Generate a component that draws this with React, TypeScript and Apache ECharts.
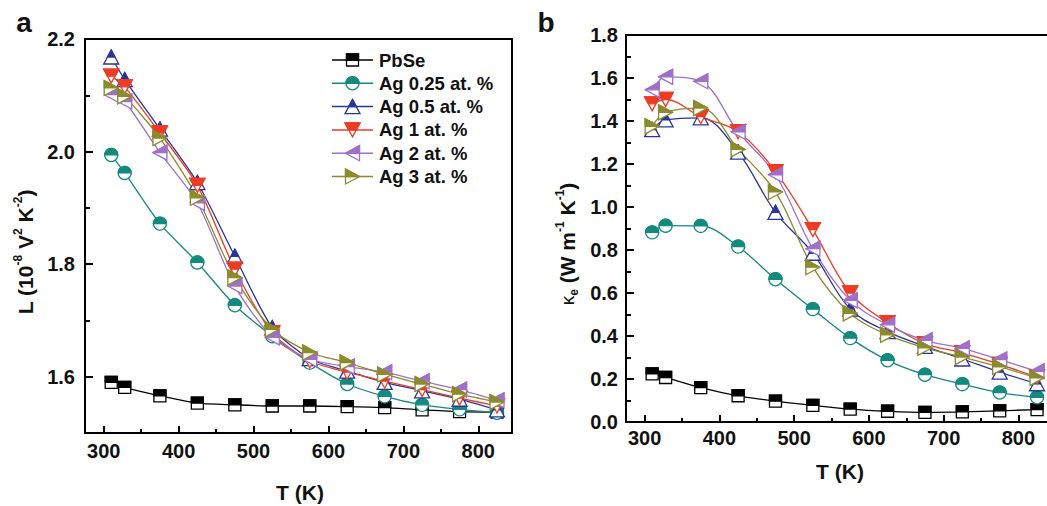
import React, { useEffect, useRef } from 'react';
import * as echarts from 'echarts';

// ---------------- data ----------------
const T = [310, 328, 375, 425, 475, 525, 575, 625, 675, 725, 775, 825];

const SERIES_NAMES = ['PbSe', 'Ag 0.25 at. %', 'Ag 0.5 at. %', 'Ag 1 at. %', 'Ag 2 at. %', 'Ag 3 at. %'];
const COLORS = ['#000000', '#138a7e', '#28369b', '#ee3b24', '#a070c8', '#8b8a2c'];
const SHAPES = ['square', 'circle', 'up', 'down', 'left', 'right'];

// Lorenz number L (10^-8 V^2 K^-2)
const L_PbSe = [1.590, 1.581, 1.566, 1.553, 1.550, 1.548, 1.548, 1.547, 1.545, 1.541, 1.538, 1.537];
const L_Ag025 = [1.994, 1.962, 1.872, 1.803, 1.727, 1.672, 1.625, 1.587, 1.565, 1.550, 1.542, 1.536];
const L_Ag05 = [2.168, 2.128, 2.040, 1.945, 1.814, 1.687, 1.632, 1.610, 1.590, 1.575, 1.560, 1.541];
const L_Ag1 = [2.134, 2.115, 2.033, 1.940, 1.791, 1.678, 1.628, 1.608, 1.592, 1.577, 1.562, 1.548];
const L_Ag2 = [2.101, 2.089, 1.998, 1.909, 1.761, 1.670, 1.631, 1.618, 1.608, 1.592, 1.577, 1.558];
const L_Ag3 = [2.113, 2.098, 2.024, 1.918, 1.776, 1.684, 1.643, 1.625, 1.604, 1.587, 1.569, 1.555];

// electronic thermal conductivity kappa_e (W m^-1 K^-1)
const K_PbSe = [0.224, 0.207, 0.160, 0.122, 0.097, 0.077, 0.060, 0.050, 0.045, 0.047, 0.052, 0.058];
const K_Ag025 = [0.882, 0.913, 0.912, 0.816, 0.664, 0.525, 0.390, 0.287, 0.220, 0.176, 0.137, 0.115];
const K_Ag05 = [1.36, 1.405, 1.415, 1.255, 0.975, 0.785, 0.525, 0.42, 0.352, 0.293, 0.232, 0.178];
const K_Ag1 = [1.48, 1.50, 1.42, 1.35, 1.165, 0.895, 0.60, 0.462, 0.365, 0.322, 0.268, 0.209];
const K_Ag2 = [1.545, 1.605, 1.585, 1.35, 1.15, 0.806, 0.566, 0.452, 0.38, 0.343, 0.29, 0.236];
const K_Ag3 = [1.375, 1.44, 1.46, 1.268, 1.07, 0.72, 0.505, 0.405, 0.345, 0.302, 0.256, 0.205];

const L_DATA = [L_PbSe, L_Ag025, L_Ag05, L_Ag1, L_Ag2, L_Ag3];
const K_DATA = [K_PbSe, K_Ag025, K_Ag05, K_Ag1, K_Ag2, K_Ag3];

const X_TICK_LABELS = [300, 400, 500, 600, 700, 800];

// ---------------- helpers ----------------
const FONT = "'Liberation Sans', Arial, Helvetica, sans-serif";

function markerEls(shape: string, cx: number, cy: number, color: string): any[] {
  const lw = 1.3;
  const white = { fill: '#ffffff', stroke: color, lineWidth: lw };
  const solid = { fill: color, stroke: color, lineWidth: lw };
  switch (shape) {
    case 'square': {
      const s = 6;
      return [
        { type: 'rect', shape: { x: cx - s, y: cy - s, width: 2 * s, height: 2 * s }, style: white },
        { type: 'rect', shape: { x: cx - s, y: cy - s, width: 2 * s, height: s }, style: solid },
      ];
    }
    case 'circle': {
      const r = 6.5;
      return [
        { type: 'circle', shape: { cx, cy, r }, style: white },
        { type: 'sector', shape: { cx, cy, r, r0: 0, startAngle: Math.PI, endAngle: 2 * Math.PI, clockwise: true }, style: solid },
      ];
    }
    case 'up': {
      const w = 7.5, h = 7;
      return [
        { type: 'polygon', shape: { points: [[cx, cy - h], [cx + w, cy + h], [cx - w, cy + h]] }, style: white },
        { type: 'polygon', shape: { points: [[cx, cy - h], [cx + w / 2, cy], [cx - w / 2, cy]] }, style: solid },
      ];
    }
    case 'down': {
      const w = 7.5, h = 7;
      return [
        { type: 'polygon', shape: { points: [[cx - w, cy - h], [cx + w, cy - h], [cx, cy + h]] }, style: white },
        { type: 'polygon', shape: { points: [[cx - w, cy - h], [cx + w, cy - h], [cx + w / 2, cy], [cx - w / 2, cy]] }, style: solid },
      ];
    }
    case 'left': {
      const w = 7, h = 7.5;
      return [
        { type: 'polygon', shape: { points: [[cx - w, cy], [cx + w, cy - h], [cx + w, cy + h]] }, style: white },
        { type: 'polygon', shape: { points: [[cx - w, cy], [cx + w, cy - h], [cx + w, cy]] }, style: solid },
      ];
    }
    default: {
      const w = 7, h = 7.5;
      return [
        { type: 'polygon', shape: { points: [[cx + w, cy], [cx - w, cy - h], [cx - w, cy + h]] }, style: white },
        { type: 'polygon', shape: { points: [[cx - w, cy - h], [cx + w, cy], [cx - w, cy]] }, style: solid },
      ];
    }
  }
}

function xAxisCfg(gridIndex: number, labelMargin: number) {
  return {
    type: 'value',
    gridIndex,
    min: 275,
    max: 845,
    splitNumber: 5,
    minInterval: 100,
    maxInterval: 100,
    axisLine: { show: true, onZero: false, lineStyle: { color: '#000', width: 2 } },
    axisTick: { show: true, inside: true, length: 7, lineStyle: { color: '#000', width: 2 } },
    minorTick: { show: true, splitNumber: 2, length: 4, lineStyle: { color: '#000', width: 2 } },
    splitLine: { show: false },
    minorSplitLine: { show: false },
    axisLabel: {
      showMinLabel: false,
      showMaxLabel: false,
      margin: labelMargin,
      color: '#111',
      fontSize: 20,
      fontWeight: 'bold',
      fontFamily: FONT,
      formatter: (v: number) => (X_TICK_LABELS.indexOf(Math.round(v)) >= 0 ? String(Math.round(v)) : ''),
    },
  };
}

function yAxisCfg(gridIndex: number, min: number, max: number, labelMargin: number, interval?: number) {
  const cfg: any = {
    type: 'value',
    gridIndex,
    min,
    max,
    axisLine: { show: true, onZero: false, lineStyle: { color: '#000', width: 2 } },
    axisTick: { show: true, inside: true, length: 8, lineStyle: { color: '#000', width: 2 } },
    minorTick: { show: true, splitNumber: 2, length: 5, lineStyle: { color: '#000', width: 2 } },
    splitLine: { show: false },
    minorSplitLine: { show: false },
    axisLabel: {
      showMinLabel: interval != null,
      margin: labelMargin,
      color: '#111',
      fontSize: 20,
      fontWeight: 'bold',
      fontFamily: FONT,
      formatter: (v: number) => v.toFixed(1),
    },
  };
  if (interval != null) {
    cfg.interval = interval;
  } else {
    cfg.splitNumber = 3;
    cfg.minInterval = 0.2;
    cfg.maxInterval = 0.2;
  }
  return cfg;
}

export default function App() {
  const ref = useRef<HTMLDivElement>(null);

  useEffect(() => {
    if (!ref.current) return;
    const chart = echarts.init(ref.current, undefined, { renderer: 'svg' });

    const series: any[] = [];
    const panels = [
      { data: L_DATA, grid: 0, smooth: 0.25 },
      { data: K_DATA, grid: 1, smooth: 0.35 },
    ];
    panels.forEach((p) => {
      p.data.forEach((vals, i) => {
        series.push({
          type: 'line',
          name: SERIES_NAMES[i],
          xAxisIndex: p.grid,
          yAxisIndex: p.grid,
          data: T.map((t, k) => [t, vals[k]]),
          smooth: p.smooth,
          showSymbol: false,
          symbol: 'none',
          lineStyle: { color: COLORS[i], width: 1.3 },
          itemStyle: { color: COLORS[i] },
          z: 2,
          silent: true,
        });
      });
    });
    panels.forEach((p) => {
      p.data.forEach((vals, i) => {
        series.push({
          type: 'custom',
          name: SERIES_NAMES[i] + ' markers',
          xAxisIndex: p.grid,
          yAxisIndex: p.grid,
          data: T.map((t, k) => [t, vals[k]]),
          encode: { x: 0, y: 1 },
          z: 3,
          silent: true,
          renderItem: (params: any, api: any) => {
            const c = api.coord([api.value(0), api.value(1)]);
            return { type: 'group', children: markerEls(SHAPES[i], c[0], c[1], COLORS[i]) };
          },
        });
      });
    });

    // legend (graphic)
    const legendEls: any[] = [];
    SERIES_NAMES.forEach((name, i) => {
      const y = 60 + i * 23.3;
      legendEls.push({
        type: 'line',
        shape: { x1: 332, y1: y, x2: 373, y2: y },
        style: { stroke: COLORS[i], lineWidth: 1.5 },
        z: 10,
      });
      legendEls.push({ type: 'group', children: markerEls(SHAPES[i], 352.5, y, COLORS[i]), z: 11 });
      legendEls.push({
        type: 'text',
        x: 379,
        y,
        style: {
          text: name,
          fontSize: 18.5,
          fontWeight: 'bold',
          fontFamily: FONT,
          fill: '#111',
          align: 'left',
          verticalAlign: 'middle',
          textAlign: 'left',
          textVerticalAlign: 'middle',
        },
        z: 11,
      });
    });

    const titleRich = {
      m: { fontSize: 21, fontWeight: 'bold', fontFamily: FONT, fill: '#111', lineHeight: 26 },
      s: { fontSize: 12, fontWeight: 'bold', fontFamily: FONT, fill: '#111', lineHeight: 12, verticalAlign: 'top' },
      sub: { fontSize: 12, fontWeight: 'bold', fontFamily: FONT, fill: '#111', lineHeight: 12, verticalAlign: 'bottom' },
      k: { fontSize: 19, fontWeight: 'normal', fontFamily: FONT, fill: '#111', lineHeight: 26 },
    };

    const textBase = (text: string, x: number, y: number, extra: any = {}) => ({
      type: 'text',
      x,
      y,
      ...extra,
      style: {
        text,
        fontFamily: FONT,
        fontWeight: 'bold',
        fontSize: 21,
        fill: '#111',
        align: 'center',
        verticalAlign: 'middle',
        textAlign: 'center',
        textVerticalAlign: 'middle',
        ...(extra.style || {}),
      },
    });

    const graphics: any[] = [
      ...legendEls,
      textBase('a', 24, 22, { style: { fontSize: 28 } }),
      textBase('b', 546, 22, { style: { fontSize: 28 } }),
      textBase('T (K)', 300, 492),
      textBase('T (K)', 840, 471),
      {
        type: 'text',
        x: 25,
        y: 252,
        rotation: Math.PI / 2,
        style: {
          text: '{m|L (10}{s|-8}{m| V}{s|2}{m| K}{s|-2}{m|)}',
          rich: titleRich,
          align: 'center',
          verticalAlign: 'middle',
          textAlign: 'center',
          textVerticalAlign: 'middle',
        },
      },
      {
        type: 'text',
        x: 567,
        y: 244,
        rotation: Math.PI / 2,
        style: {
          text: '{k|κ}{sub|e}{m| (W m}{s|-1}{m| K}{s|-1}{m|)}',
          rich: titleRich,
          align: 'center',
          verticalAlign: 'middle',
          textAlign: 'center',
          textVerticalAlign: 'middle',
        },
      },
    ];

    chart.setOption({
      animation: false,
      backgroundColor: '#ffffff',
      grid: [
        { left: 85, top: 39, right: 535, bottom: 73, show: true, borderColor: '#000', borderWidth: 2, backgroundColor: 'transparent', containLabel: false, outerBoundsMode: 'none' },
        { left: 626, top: 35, right: -5, bottom: 84, show: true, borderColor: '#000', borderWidth: 2, backgroundColor: 'transparent', containLabel: false, outerBoundsMode: 'none' },
      ],
      xAxis: [xAxisCfg(0, 8), xAxisCfg(1, 6)],
      yAxis: [yAxisCfg(0, 1.5, 2.2, 10), yAxisCfg(1, 0, 1.8, 8, 0.2)],
      series,
      graphic: graphics,
    });

    return () => {
      chart.dispose();
    };
  }, []);

  return (
    <div
      ref={ref}
      style={{ position: 'absolute', left: 0, top: 0, width: 1047, height: 506, background: '#fff' }}
    />
  );
}
